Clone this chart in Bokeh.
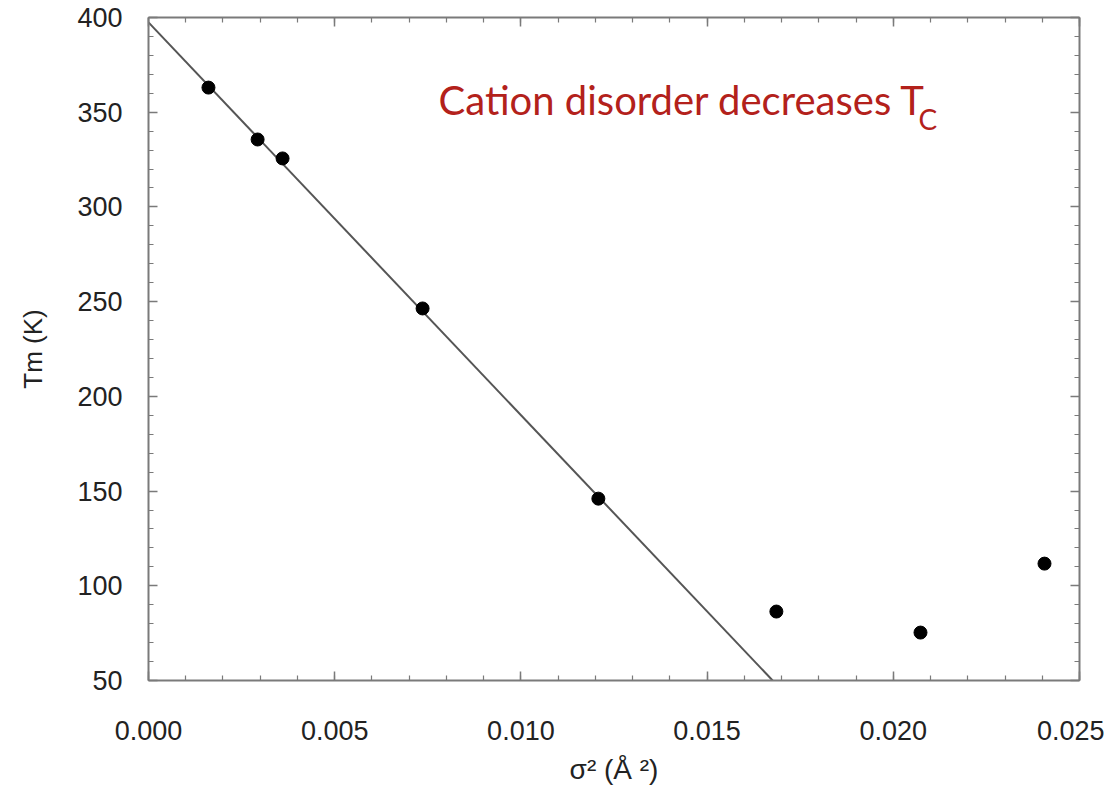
from bokeh.plotting import figure
from bokeh.models import (LinearAxis, SingleIntervalTicker, NumeralTickFormatter,
                          Range1d, Label, ColumnDataSource, CustomJSTickFormatter)
from bokeh.embed import file_html
from bokeh.resources import INLINE

# data
sigma2 = [0.00161, 0.00293, 0.00360, 0.00736, 0.01208, 0.01686, 0.02073, 0.02406]
tm = [363.0, 335.6, 325.6, 246.4, 146.0, 86.4, 75.3, 111.7]
fit_x = [0.0, 0.01676]
fit_y = [397.4, 50.0]
x_ticks_interval = 0.005
y_ticks_interval = 50
annotation = "Cation disorder decreases T"
annotation_sub = "C"

TICK_FONT = "Liberation Sans"
AX_COLOR = "#7a7a7a"

p = figure(width=1104, height=795, output_backend="svg", toolbar_location=None,
           x_range=Range1d(0, 0.025), y_range=Range1d(50, 400),
           min_border_left=148, min_border_right=25, min_border_top=17,
           min_border_bottom=115, x_axis_location=None, y_axis_location=None)
p.grid.visible = False
p.outline_line_color = None
p.background_fill_color = "white"
p.border_fill_color = "white"


def style_axis(ax, show_labels):
    ax.axis_line_color = AX_COLOR
    ax.axis_line_width = 2
    ax.major_tick_line_color = AX_COLOR
    ax.minor_tick_line_color = AX_COLOR
    ax.major_tick_line_width = 1.5
    ax.minor_tick_line_width = 1.2
    ax.major_tick_in = 9
    ax.major_tick_out = 0
    ax.minor_tick_in = 5
    ax.minor_tick_out = 0
    if not show_labels:
        ax.formatter = CustomJSTickFormatter(code="return ''")
        ax.major_label_standoff = 0


xt = lambda: SingleIntervalTicker(interval=x_ticks_interval, num_minor_ticks=5)
yt = lambda: SingleIntervalTicker(interval=y_ticks_interval, num_minor_ticks=5)

xb = LinearAxis(ticker=xt(), formatter=NumeralTickFormatter(format="0.000"),
                axis_label="σ² (Å ²)")
style_axis(xb, True)
xb.major_label_text_font = TICK_FONT
xb.major_label_text_font_size = "27px"
xb.major_label_text_color = "#222222"
xb.major_label_standoff = 40
xb.axis_label_text_font = TICK_FONT
xb.axis_label_text_font_size = "28px"
xb.axis_label_text_font_style = "normal"
xb.axis_label_text_color = "#222222"
xb.axis_label_standoff = 11
p.add_layout(xb, "below")

yl = LinearAxis(ticker=yt(), axis_label="Tm (K)")
style_axis(yl, True)
yl.major_label_text_font = TICK_FONT
yl.major_label_text_font_size = "27px"
yl.major_label_text_color = "#222222"
yl.major_label_standoff = 26
yl.axis_label_text_font = TICK_FONT
yl.axis_label_text_font_size = "26px"
yl.axis_label_text_font_style = "normal"
yl.axis_label_text_color = "#222222"
yl.axis_label_standoff = 26
p.add_layout(yl, "left")

xtp = LinearAxis(ticker=xt())
style_axis(xtp, False)
p.add_layout(xtp, "above")

yr = LinearAxis(ticker=yt())
style_axis(yr, False)
p.add_layout(yr, "right")

p.line(fit_x, fit_y, line_color="#555555", line_width=2)
src = ColumnDataSource(dict(x=sigma2, y=tm))
p.scatter("x", "y", source=src, size=13, fill_color="black", line_color="black")

RED = "#b3211b"
p.add_layout(Label(x=0.00779, y=356.5, text=annotation, text_color=RED,
                   text_font="Lato", text_font_size="40px", text_baseline="alphabetic"))
p.add_layout(Label(x=0.02068, y=346.5, text=annotation_sub, text_color=RED,
                   text_font="Lato", text_font_size="28px", text_baseline="alphabetic"))

open("out.html", "w").write(file_html(p, INLINE))
